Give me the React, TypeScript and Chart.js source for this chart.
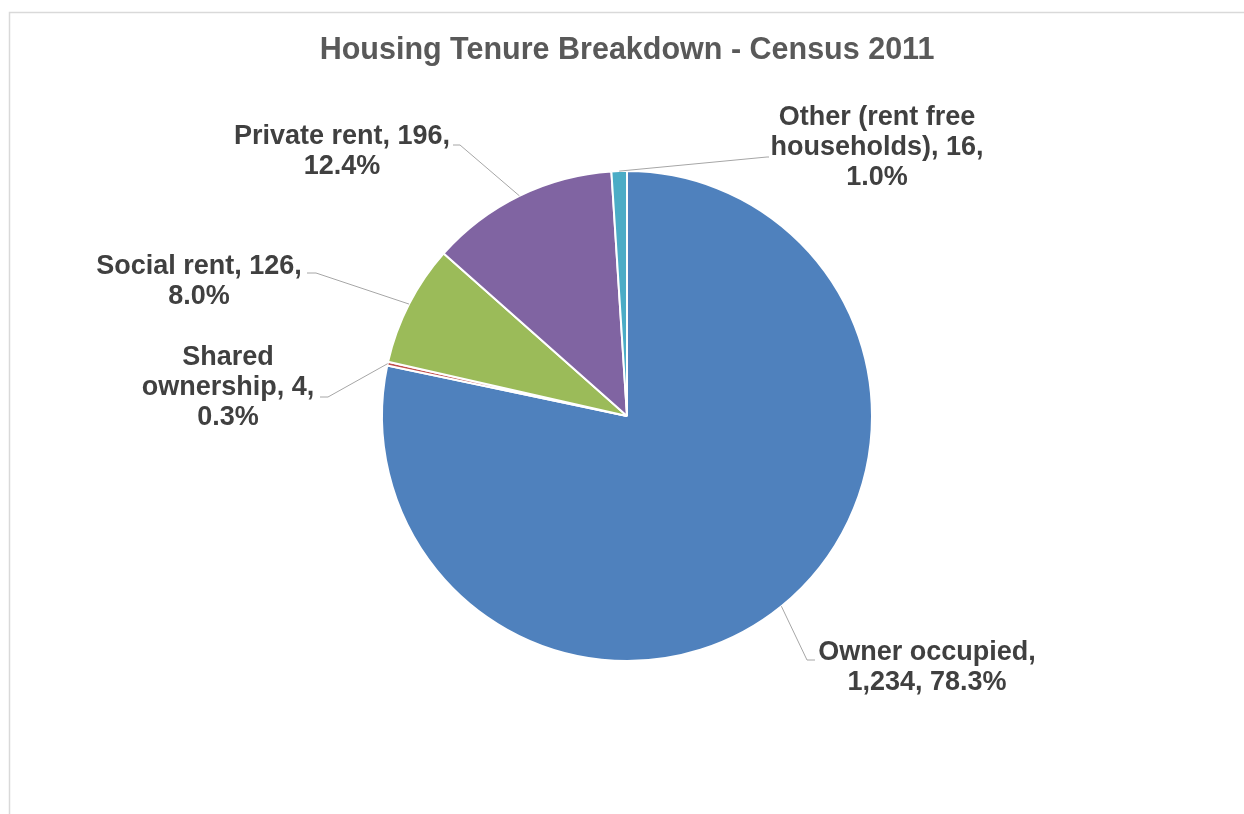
import { useEffect, useRef } from "react";
import { Chart, registerables } from "chart.js";

Chart.register(...registerables);

const TITLE = "Housing Tenure Breakdown - Census 2011";
const categories = [
  "Owner occupied",
  "Shared ownership",
  "Social rent",
  "Private rent",
  "Other (rent free households)",
];
const values = [1234, 4, 126, 196, 16];
const colors = ["#4F81BD", "#C0504D", "#9BBB59", "#8064A2", "#4BACC6"];

const FONT = "'Liberation Sans', Arial, Helvetica, sans-serif";

// label placement, pixel offsets from the pie centre
const labelLayout = [
  { elbow: [180, 244], stub: [188, 244], text: [300, 252], wrap: 225 },
  { elbow: [-299, -19], stub: [-307, -19], text: [-399, -28], wrap: 180 },
  { elbow: [-311, -143], stub: [-320, -143], text: [-428, -134], wrap: 230 },
  { elbow: [-167, -271], stub: [-174, -271], text: [-285, -264], wrap: 225 },
  { elbow: [140, -259], stub: [142, -259], text: [250, -268], wrap: 225 },
];

function wrapText(ctx: CanvasRenderingContext2D, text: string, maxW: number): string[] {
  const words = text.split(" ");
  const lines: string[] = [];
  let cur = "";
  for (const w of words) {
    const test = cur ? cur + " " + w : w;
    if (cur && ctx.measureText(test).width > maxW) {
      lines.push(cur);
      cur = w;
    } else {
      cur = test;
    }
  }
  if (cur) lines.push(cur);
  return lines;
}

const framePlugin = {
  id: "frame",
  beforeDraw(chart: any) {
    const ctx = chart.ctx;
    ctx.save();
    ctx.strokeStyle = "#d9d9d9";
    ctx.lineWidth = 1.5;
    ctx.beginPath();
    ctx.moveTo(9.5, chart.height);
    ctx.lineTo(9.5, 12.5);
    ctx.lineTo(chart.width, 12.5);
    ctx.stroke();
    ctx.restore();
  },
};

const labelPlugin = {
  id: "pieLabels",
  afterDatasetsDraw(chart: any) {
    const ctx = chart.ctx;
    const meta = chart.getDatasetMeta(0);
    const data = chart.data.datasets[0].data as number[];
    const total = data.reduce((a, b) => a + b, 0);
    ctx.save();
    meta.data.forEach((arc: any, i: number) => {
      const { x, y, startAngle, endAngle, outerRadius } = arc.getProps(
        ["x", "y", "startAngle", "endAngle", "outerRadius"],
        true
      );
      const lay = labelLayout[i];
      const mid = (startAngle + endAngle) / 2;
      const ex = x + Math.cos(mid) * outerRadius;
      const ey = y + Math.sin(mid) * outerRadius;
      ctx.strokeStyle = "#a6a6a6";
      ctx.lineWidth = 1;
      ctx.beginPath();
      ctx.moveTo(ex, ey);
      ctx.lineTo(x + lay.elbow[0], y + lay.elbow[1]);
      ctx.lineTo(x + lay.stub[0], y + lay.stub[1]);
      ctx.stroke();

      const pct = ((data[i] / total) * 100).toFixed(1) + "%";
      const text = `${chart.data.labels[i]}, ${data[i].toLocaleString("en-US")}, ${pct}`;
      ctx.font = `bold 27px ${FONT}`;
      ctx.fillStyle = "#404040";
      ctx.textAlign = "center";
      ctx.textBaseline = "middle";
      const lines = wrapText(ctx, text, lay.wrap);
      const lh = 30;
      const cx = x + lay.text[0];
      const cy = y + lay.text[1];
      lines.forEach((ln, k) => {
        ctx.fillText(ln, cx, cy + (k - (lines.length - 1) / 2) * lh);
      });
    });
    ctx.restore();
  },
};

export default function App() {
  const ref = useRef<HTMLCanvasElement | null>(null);
  useEffect(() => {
    if (!ref.current) return;
    const chart = new Chart(ref.current, {
      type: "pie",
      data: {
        labels: categories,
        datasets: [
          {
            data: values,
            backgroundColor: colors,
            borderColor: "#ffffff",
            borderWidth: 2,
          },
        ],
      },
      options: {
        responsive: false,
        animation: false,
        devicePixelRatio: 1,
        layout: { padding: { left: 10, right: 0, top: 0, bottom: 152 } },
        plugins: {
          legend: { display: false },
          tooltip: { enabled: false },
          title: {
            display: true,
            text: TITLE,
            color: "#595959",
            font: { family: FONT, size: 30.5, weight: "bold", lineHeight: 1.2 },
            padding: { top: 32, bottom: 101.4 },
          },
        },
      },
      plugins: [framePlugin, labelPlugin],
    });
    return () => chart.destroy();
  }, []);
  return (
    <div style={{ position: "fixed", left: 0, top: 0, width: 1244, height: 814, background: "#fff" }}>
      <canvas ref={ref} width={1244} height={814} />
    </div>
  );
}
